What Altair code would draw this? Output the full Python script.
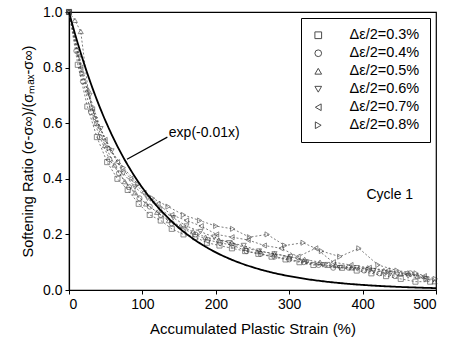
import altair as alt
import pandas as pd

# ---- data ----
labels = ["Δε/2=0.3%", "Δε/2=0.4%", "Δε/2=0.5%", "Δε/2=0.6%", "Δε/2=0.7%", "Δε/2=0.8%"]
shapes = ["square", "circle", "triangle-up", "triangle-down", "triangle-left", "triangle-right"]

x03 = [0, 12, 25, 38, 52, 66, 80, 95, 110, 125, 140, 156, 172, 188, 205, 222, 240, 258, 276, 295, 314, 333, 352, 372, 392, 412, 432, 452, 472, 492]
y03 = [1.0, 0.81, 0.66, 0.55, 0.46, 0.40, 0.36, 0.31, 0.27, 0.25, 0.22, 0.20, 0.19, 0.17, 0.16, 0.15, 0.14, 0.13, 0.12, 0.11, 0.10, 0.09, 0.09, 0.08, 0.07, 0.06, 0.05, 0.04, 0.03, 0.03]
x04 = [0, 10, 19, 30, 42, 55, 68, 82, 96, 110, 125, 140, 156, 172, 189, 206, 224, 242, 261, 280, 300, 320, 340, 360, 381, 402, 423, 444, 465, 486]
y04 = [1.0, 0.86, 0.75, 0.64, 0.55, 0.47, 0.42, 0.37, 0.33, 0.30, 0.27, 0.24, 0.22, 0.20, 0.18, 0.17, 0.16, 0.14, 0.13, 0.12, 0.11, 0.10, 0.09, 0.08, 0.08, 0.07, 0.06, 0.05, 0.06, 0.04]
x05 = [0, 8, 16, 26, 37, 49, 62, 76, 90, 105, 120, 136, 152, 169, 186, 204, 222, 241, 260, 280, 300, 321, 342, 363, 385, 407, 429, 452, 475, 498]
y05 = [1.0, 0.97, 0.93, 0.72, 0.60, 0.52, 0.45, 0.39, 0.35, 0.31, 0.28, 0.25, 0.23, 0.21, 0.19, 0.18, 0.17, 0.15, 0.14, 0.13, 0.12, 0.11, 0.10, 0.09, 0.08, 0.08, 0.07, 0.06, 0.05, 0.03]
x06 = [0, 14, 28, 43, 58, 74, 90, 107, 124, 142, 160, 179, 198, 218, 238, 259, 280, 302, 324, 346, 369, 392, 415, 438, 462, 486]
y06 = [1.0, 0.84, 0.70, 0.58, 0.50, 0.42, 0.37, 0.33, 0.29, 0.26, 0.23, 0.21, 0.19, 0.17, 0.16, 0.14, 0.13, 0.12, 0.10, 0.09, 0.08, 0.08, 0.07, 0.06, 0.05, 0.04]
x07 = [0, 16, 32, 49, 66, 84, 102, 121, 140, 160, 180, 201, 222, 244, 266, 289, 312, 336, 360, 384, 409, 434, 459, 484]
y07 = [1.0, 0.80, 0.65, 0.54, 0.46, 0.40, 0.35, 0.31, 0.27, 0.25, 0.23, 0.20, 0.19, 0.18, 0.16, 0.15, 0.12, 0.15, 0.10, 0.09, 0.08, 0.07, 0.06, 0.05]
x08 = [0, 18, 36, 55, 74, 94, 114, 135, 156, 178, 200, 223, 246, 270, 294, 319, 344, 369, 395, 421, 447, 473, 499]
y08 = [1.0, 0.78, 0.62, 0.51, 0.44, 0.38, 0.33, 0.30, 0.27, 0.25, 0.23, 0.22, 0.19, 0.20, 0.16, 0.17, 0.14, 0.12, 0.15, 0.09, 0.07, 0.06, 0.04]

xs = [x03, x04, x05, x06, x07, x08]
ys = [y03, y04, y05, y06, y07, y08]

rows = []
for lab, xv, yv in zip(labels, xs, ys):
    for a, b in zip(xv, yv):
        rows.append({"series": lab, "x": a, "y": b})
df = pd.DataFrame(rows)

ann = pd.DataFrame({"x": [136], "y": [0.565], "text": ["exp(-0.01x)"]})
leader = pd.DataFrame({"x": [134], "y": [0.55], "x2": [79], "y2": [0.47]})
cyc = pd.DataFrame({"x": [437], "y": [0.342], "text": ["Cycle 1"]})

FONT = "Liberation Sans"

xscale = alt.Scale(domain=[0, 500], nice=False)
yscale = alt.Scale(domain=[0, 1.0], nice=False)

xaxis = alt.Axis(title="Accumulated Plastic Strain (%)", values=[0, 100, 200, 300, 400, 500],
                 format="d", tickSize=4, labelFontSize=14, titleFontSize=15,
                 titleFontWeight="normal", labelColor="black", titleColor="black",
                 domainColor="black", tickColor="black", labelPadding=3, titlePadding=10,
                 grid=False, labelFont=FONT, titleFont=FONT)
yaxis = alt.Axis(title="Softening Ratio (σ-σ∞)/(σₘₐₓ-σ∞)", values=[0, 0.2, 0.4, 0.6, 0.8, 1.0],
                 format=".1f", tickSize=4, labelFontSize=14, titleFontSize=14.5,
                 titleFontWeight="normal", labelColor="black", titleColor="black",
                 domainColor="black", tickColor="black", labelPadding=3, titlePadding=7,
                 grid=False, labelFont=FONT, titleFont=FONT)

base = alt.Chart(df)

lines = base.mark_line(color="#444", strokeWidth=0.7, strokeDash=[2, 2]).encode(
    x=alt.X("x:Q", scale=xscale, axis=xaxis),
    y=alt.Y("y:Q", scale=yscale, axis=yaxis),
    detail="series:N",
    order="x:Q",
)

points = base.mark_point(filled=False, color="#333", strokeWidth=0.8, size=26).encode(
    x=alt.X("x:Q", scale=xscale),
    y=alt.Y("y:Q", scale=yscale),
    shape=alt.Shape("series:N", scale=alt.Scale(domain=labels, range=shapes),
                    legend=alt.Legend(title=None, orient="none", legendX=232, legendY=6,
                                      strokeColor="black", fillColor="white", padding=10,
                                      labelFontSize=14.5, labelFont=FONT, labelColor="black",
                                      symbolSize=45, symbolStrokeColor="black",
                                      symbolStrokeWidth=1, symbolFillColor="white",
                                      rowPadding=3, labelOffset=24, offset=0)),
)

curve = alt.Chart(alt.sequence(0, 500.5, 2, as_="x")).transform_calculate(
    y="exp(-0.01*datum.x)"
).mark_line(color="black", strokeWidth=1.8).encode(
    x=alt.X("x:Q", scale=xscale),
    y=alt.Y("y:Q", scale=yscale),
)

ann_text = alt.Chart(ann).mark_text(align="left", baseline="middle", fontSize=14,
                                    font=FONT, color="black").encode(
    x=alt.X("x:Q", scale=xscale), y=alt.Y("y:Q", scale=yscale), text="text:N")

ann_line = alt.Chart(leader).mark_rule(color="black", strokeWidth=1.2).encode(
    x=alt.X("x:Q", scale=xscale), y=alt.Y("y:Q", scale=yscale), x2="x2:Q", y2="y2:Q")

cyc_text = alt.Chart(cyc).mark_text(align="center", baseline="middle", fontSize=14,
                                    font=FONT, color="black").encode(
    x=alt.X("x:Q", scale=xscale), y=alt.Y("y:Q", scale=yscale), text="text:N")

chart = alt.layer(lines, points, curve, ann_line, ann_text, cyc_text).properties(
    width=367, height=278,
    autosize=alt.AutoSizeParams(type="none"),
    padding={"left": 69, "top": 12, "right": 13, "bottom": 57},
    background="white",
).configure_view(stroke="black", strokeWidth=1.2).configure_axis(domainWidth=1.2)

chart.save("out.html", embed_options={"renderer": "svg", "actions": False})
